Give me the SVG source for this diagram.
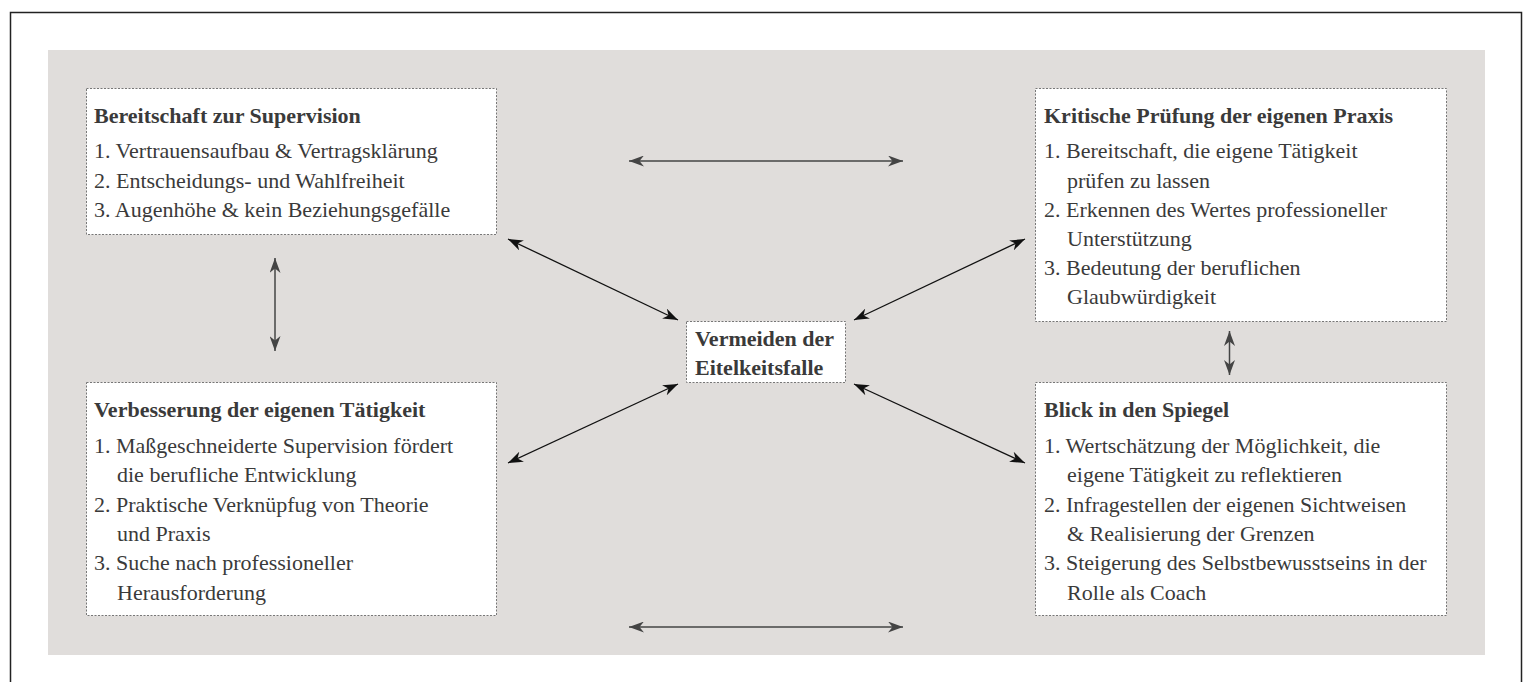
<svg xmlns="http://www.w3.org/2000/svg" width="1525" height="682" viewBox="0 0 1525 682">
  <defs>
    <style>
      .frame { fill: #ffffff; stroke: #222222; stroke-width: 1.5; }
      .bg { fill: #e0dddb; }
      .box { fill: #ffffff; stroke: #777777; stroke-width: 1; stroke-dasharray: 2 1.5; }
      .t { font-family: "Liberation Serif", "Times New Roman", serif; font-size: 22px; fill: #3a3a3a; }
      .b { font-weight: bold; }
      .c1 { stroke: #444444; stroke-width: 1.5; fill: none; marker-start: url(#ag); marker-end: url(#ag); }
      .c2 { stroke: #111111; stroke-width: 1.3; fill: none; marker-start: url(#ak); marker-end: url(#ak); }
    </style>
    <marker id="ag" markerUnits="userSpaceOnUse" viewBox="0 0 15 11" markerWidth="15" markerHeight="11" refX="15" refY="5.5" orient="auto-start-reverse">
      <path d="M0,0 L15,5.5 L0,11 L4.5,5.5 z" fill="#444444"/>
    </marker>
    <marker id="ak" markerUnits="userSpaceOnUse" viewBox="0 0 15 11" markerWidth="15" markerHeight="11" refX="15" refY="5.5" orient="auto-start-reverse">
      <path d="M0,0 L15,5.5 L0,11 L4.5,5.5 z" fill="#111111"/>
    </marker>
  </defs>

  <rect class="frame" x="10.5" y="12.5" width="1511" height="700"/>
  <rect class="bg" x="48" y="50" width="1437" height="605"/>

  <g id="connectors">
    <line class="c1" x1="629" y1="161" x2="903" y2="161"/>
    <line class="c1" x1="629" y1="627" x2="903" y2="627"/>
    <line class="c1" x1="275" y1="258" x2="275" y2="351"/>
    <line class="c1" x1="1229.5" y1="331" x2="1229.5" y2="375"/>
    <line class="c2" x1="508" y1="239" x2="678" y2="320"/>
    <line class="c2" x1="1025" y1="239" x2="854" y2="320"/>
    <line class="c2" x1="508" y1="463" x2="678" y2="384"/>
    <line class="c2" x1="1025" y1="463" x2="854" y2="384"/>
  </g>

  <g id="node-bereitschaft">
    <rect class="box" x="86.5" y="88.5" width="410" height="146"/>
    <text class="t b" x="94" y="123">Bereitschaft zur Supervision</text>
    <text class="t" x="94" y="158">1. Vertrauensaufbau &amp; Vertragsklärung</text>
    <text class="t" x="94" y="187.5">2. Entscheidungs- und Wahlfreiheit</text>
    <text class="t" x="94" y="217">3. Augenhöhe &amp; kein Beziehungsgefälle</text>
  </g>

  <g id="node-kritische">
    <rect class="box" x="1035.5" y="88.5" width="411" height="233"/>
    <text class="t b" x="1044" y="123">Kritische Prüfung der eigenen Praxis</text>
    <text class="t" x="1044" y="158">1. Bereitschaft, die eigene Tätigkeit</text>
    <text class="t" x="1067" y="187.5">prüfen zu lassen</text>
    <text class="t" x="1044" y="217">2. Erkennen des Wertes professioneller</text>
    <text class="t" x="1067" y="246">Unterstützung</text>
    <text class="t" x="1044" y="275">3. Bedeutung der beruflichen</text>
    <text class="t" x="1067" y="304">Glaubwürdigkeit</text>
  </g>

  <g id="node-center">
    <rect class="box" x="686.5" y="321.5" width="159" height="61"/>
    <text class="t b" x="695" y="346">Vermeiden der</text>
    <text class="t b" x="695" y="375">Eitelkeitsfalle</text>
  </g>

  <g id="node-verbesserung">
    <rect class="box" x="86.5" y="382.5" width="410" height="233"/>
    <text class="t b" x="94" y="417">Verbesserung der eigenen Tätigkeit</text>
    <text class="t" x="94" y="453">1. Maßgeschneiderte Supervision fördert</text>
    <text class="t" x="117" y="482">die berufliche Entwicklung</text>
    <text class="t" x="94" y="511.5">2. Praktische Verknüpfug von Theorie</text>
    <text class="t" x="117" y="541">und Praxis</text>
    <text class="t" x="94" y="570">3. Suche nach professioneller</text>
    <text class="t" x="117" y="599.5">Herausforderung</text>
  </g>

  <g id="node-spiegel">
    <rect class="box" x="1035.5" y="382.5" width="411" height="233"/>
    <text class="t b" x="1044" y="417">Blick in den Spiegel</text>
    <text class="t" x="1044" y="453">1. Wertschätzung der Möglichkeit, die</text>
    <text class="t" x="1067" y="482">eigene Tätigkeit zu reflektieren</text>
    <text class="t" x="1044" y="511.5">2. Infragestellen der eigenen Sichtweisen</text>
    <text class="t" x="1067" y="541">&amp; Realisierung der Grenzen</text>
    <text class="t" x="1044" y="570">3. Steigerung des Selbstbewusstseins in der</text>
    <text class="t" x="1067" y="599.5">Rolle als Coach</text>
  </g>
</svg>
